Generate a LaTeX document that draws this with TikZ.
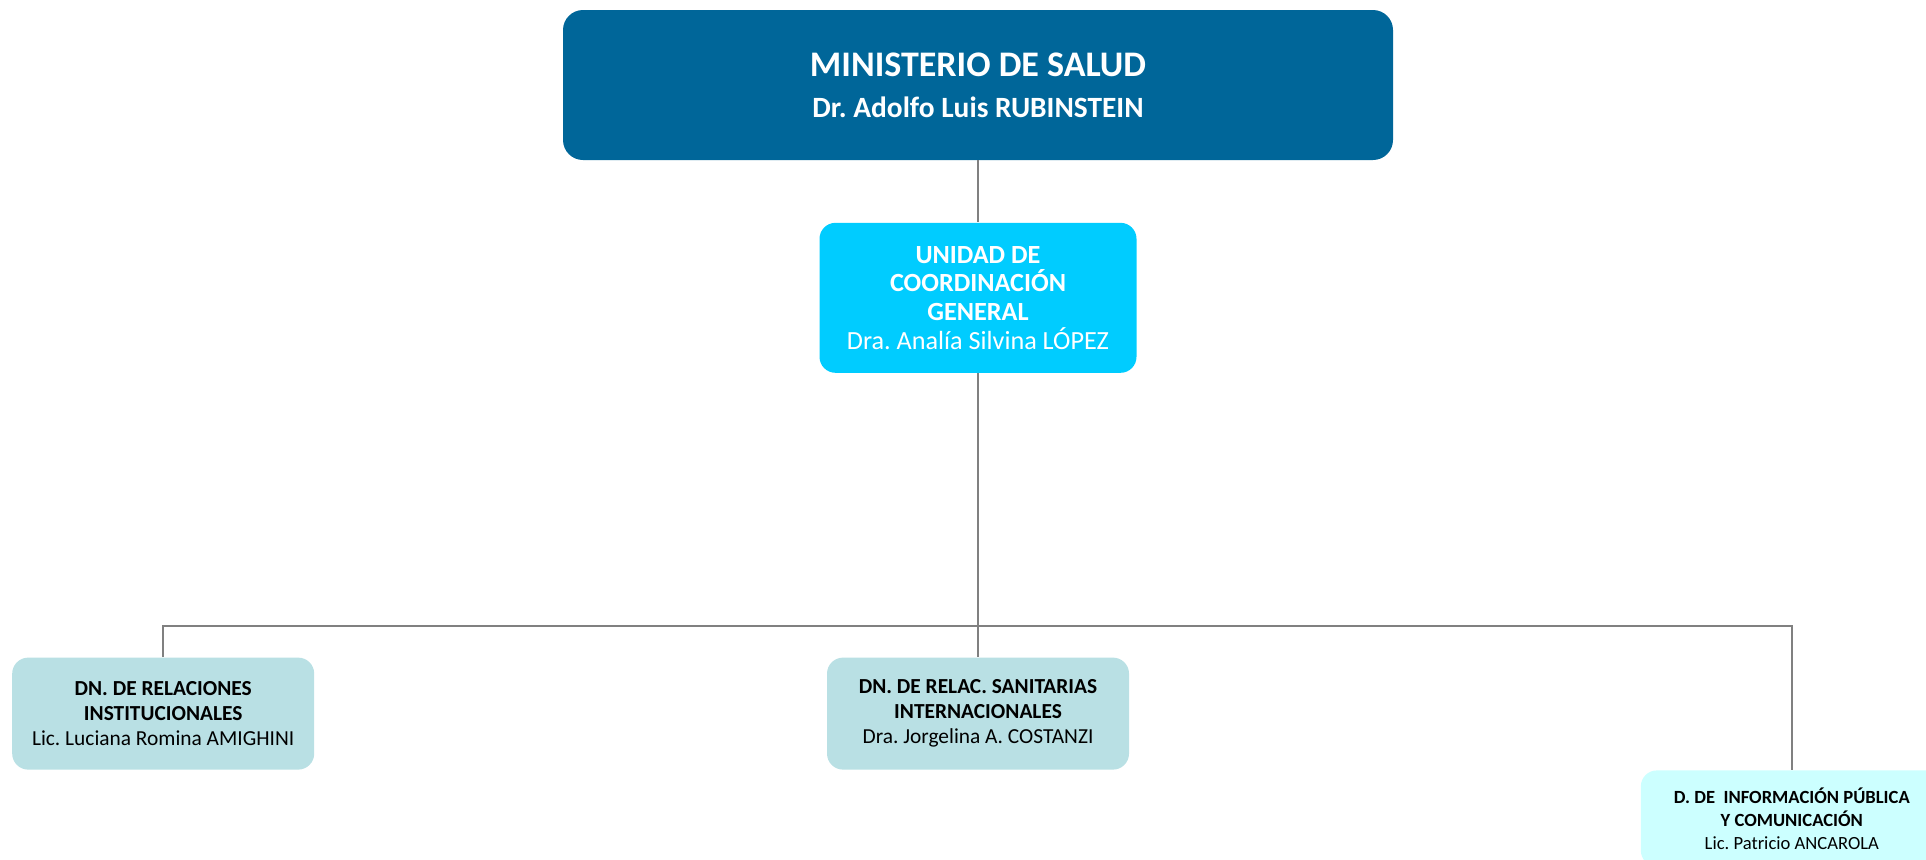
\documentclass[tikz,border=0pt]{standalone}
\usepackage{fontspec}
\setmainfont{Carlito}
\usetikzlibrary{positioning}
\frenchspacing

\definecolor{ministerio}{HTML}{006699}
\definecolor{unidad}{HTML}{00CCFF}
\definecolor{direccion}{HTML}{B9E0E4}
\definecolor{direccionb}{HTML}{CCFFFF}
\definecolor{linea}{HTML}{808080}

\begin{document}
\begin{tikzpicture}[auto,
	box/.style={rounded corners=8pt, align=center, inner sep=2pt},
	topbox/.style={box, fill=ministerio, text=white, minimum width=415pt, minimum height=75pt, rounded corners=10pt},
	unitbox/.style={box, fill=unidad, text=white, minimum width=158.5pt, minimum height=75pt,
		font=\fontsize{13.1}{14.3}\selectfont},
	dnbox/.style={box, fill=direccion, text=black, minimum width=151pt, minimum height=56pt,
		font=\fontsize{10.7}{12.5}\selectfont},
	dbox/.style={box, fill=direccionb, text=black, minimum width=151pt, minimum height=48pt,
		font=\fontsize{9.3}{11.5}\selectfont},
	line/.style={draw=linea, line width=1pt}]
	\useasboundingbox (0,0) rectangle (963pt,-429.5pt);
	\clip (0,0) rectangle (963pt,-429.5pt);
	\node[topbox] (MS) at (489pt,-42.5pt) {{\fontsize{18}{20.5}\selectfont\bfseries MINISTERIO DE SALUD}\\[8.5pt]
		{\fontsize{14.7}{17}\selectfont\bfseries Dr. Adolfo Luis RUBINSTEIN}};
	\node[unitbox, below=31pt of MS] (UCG) {\textbf{UNIDAD DE}\\ \textbf{COORDINACIÓN}\\ \textbf{GENERAL}\\ Dra. Analía Silvina LÓPEZ};
	\node[dnbox, below=142pt of UCG] (DNRSI) {\textbf{DN. DE RELAC. SANITARIAS}\\ \textbf{INTERNACIONALES}\\ Dra. Jorgelina A. COSTANZI};
	\node[dnbox, left=256pt of DNRSI] (DNRI) {\textbf{DN. DE RELACIONES}\\ \textbf{INSTITUCIONALES}\\ Lic. Luciana Romina AMIGHINI};
	\node[dbox, below right=0pt and 255.5pt of DNRSI.south east, anchor=north west] (DIPC) {\textbf{D. DE~ INFORMACIÓN PÚBLICA}\\ \textbf{Y COMUNICACIÓN}\\ Lic. Patricio ANCAROLA};
	\coordinate[above=15.5pt of DNRSI.north] (bus);
	\path[line]	(MS)	edge	(UCG)
			  	(UCG)	edge	(DNRSI);
	\draw[line] (DNRI.north) |- (bus) -| (DIPC.north);
\end{tikzpicture}
\end{document}
